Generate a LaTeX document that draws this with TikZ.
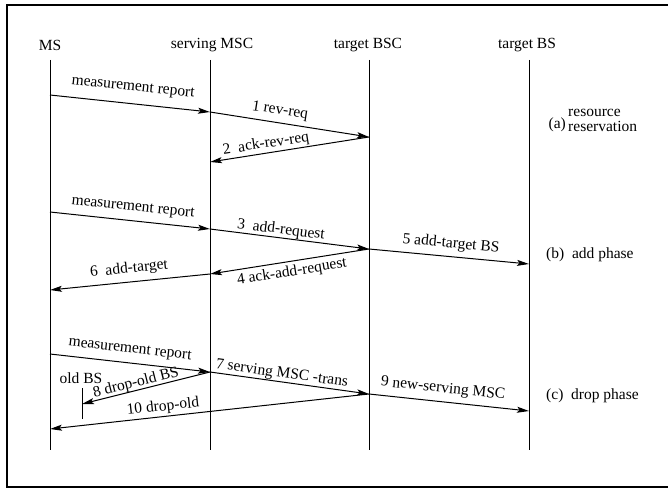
\documentclass[tikz,border=0pt]{standalone}
\usepackage{fontspec}
\setmainfont{Liberation Serif}
\usetikzlibrary{arrows.meta}
\begin{document}
\begin{tikzpicture}[x=1pt,y=-1pt,
  every node/.style={font=\fontsize{15.5}{18}\selectfont, inner sep=0pt},
  life/.style={line width=0.7pt},
  msg/.style={line width=1pt, -{Stealth[length=12pt,width=6pt,inset=2.5pt]}},
  lab/.style={anchor=center}]
\useasboundingbox (0,0) rectangle (668,489);
\draw[line width=2.6pt] (7,5) rectangle (672,487);
% headers
\node (ms) at (50,45) {MS};
\node (msc) at (212,45) {serving MSC};
\node (bsc) at (368,45) {target BSC};
\node (bs) at (527,45) {target BS};
% lifelines
\coordinate (msT) at (50,60);   \coordinate (msB) at (50,450);
\coordinate (mscT) at (210,60); \coordinate (mscB) at (210,450);
\coordinate (bscT) at (369,60); \coordinate (bscB) at (369,450);
\coordinate (bsT) at (529,60);  \coordinate (bsB) at (529,450);
\draw[life] (msT) -- (msB);
\draw[life] (mscT) -- (mscB);
\draw[life] (bscT) -- (bscB);
\draw[life] (bsT) -- (bsB);
% (a)
\coordinate (a1) at (50,95);
\coordinate (a2) at (210,112);
\coordinate (a3) at (369,137);
\coordinate (a4) at (210,162);
\draw[msg] (a1) -- (a2);
\draw[msg] (a2) -- (a3);
\draw[msg] (a3) -- (a4);
\node[lab,rotate=-6.1] (la1) at (133,88) {measurement report};
\node[lab,rotate=-8.9] (la2) at (280,111) {1 rev-req};
\node[lab,rotate=8.9] (la3) at (266,144) {2\ \ ack-rev-req};
\node[anchor=east] (pa) at (566,125) {(a)};
\node[anchor=west,align=left,font=\fontsize{15.5}{15}\selectfont] (pa2) at (568,120) {resource\\reservation};
% (b)
\coordinate (b1) at (50,212);
\coordinate (b2) at (210,229);
\coordinate (b3) at (369,249);
\coordinate (b4) at (529,264);
\coordinate (b5) at (210,274);
\coordinate (b6) at (50,290);
\draw[msg] (b1) -- (b2);
\draw[msg] (b2) -- (b3);
\draw[msg] (b3) -- (b4);
\draw[msg] (b3) -- (b5);
\draw[msg] (b5) -- (b6);
\node[lab,rotate=-6.1] (lb1) at (133,208) {measurement report};
\node[lab,rotate=-7.2] (lb2) at (281,230) {3\ \ add-request};
\node[lab,rotate=-5.4] (lb3) at (451,244) {5 add-target BS};
\node[lab,rotate=8.9] (lb4) at (292,272) {4 ack-add-request};
\node[lab,rotate=5.7] (lb5) at (129,269) {6\ \ add-target};
\node[anchor=west] (pb) at (546,255) {(b)\ \ add phase};
% (c)
\coordinate (c1) at (50,354);
\coordinate (c2) at (210,372);
\coordinate (c3) at (369,394);
\coordinate (c4) at (529,411);
\coordinate (c5) at (82,404);
\coordinate (c6) at (50,429);
\coordinate (oT) at (82,388);
\coordinate (oB) at (82,419);
\draw[life] (oT) -- (oB);
\draw[msg] (c1) -- (c2);
\draw[msg] (c2) -- (c3);
\draw[msg] (c3) -- (c4);
\draw[msg] (c2) -- (c5);
\draw[msg] (c3) -- (c6);
\node[lab,rotate=-6.4] (lc1) at (130,350) {measurement report};
\node[lab,rotate=-7.9] (lc2) at (282,374) {7 serving MSC -trans};
\node[lab,rotate=-6.1] (lc3) at (443,389) {9 new-serving MSC};
\node[lab,rotate=14] (lc4) at (136,383) {8 drop-old BS};
\node[lab,rotate=6.3] (lc5) at (163,407) {10 drop-old};
\node[lab] (lc6) at (81,378) {old BS};
\node[anchor=west] (pc) at (546,396) {(c)\ \ drop phase};
\end{tikzpicture}
\end{document}
